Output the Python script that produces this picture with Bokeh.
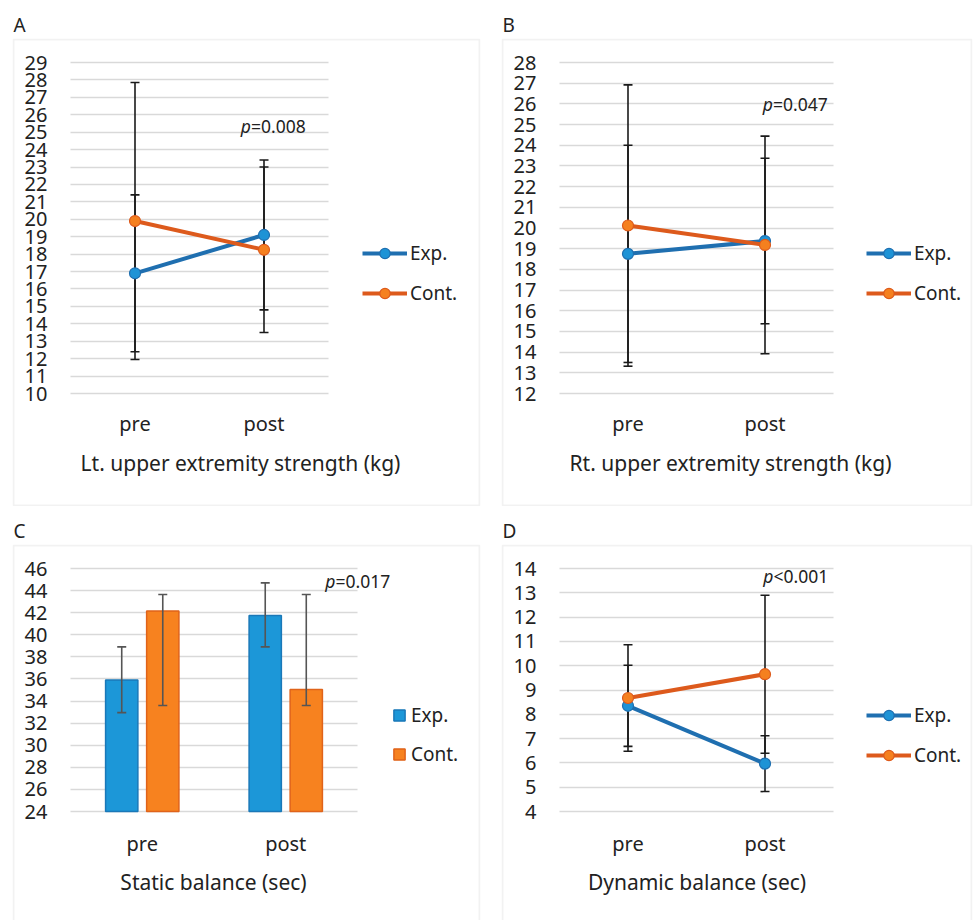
from bokeh.plotting import figure
from bokeh.models import (Range1d, Label, BoxAnnotation, Legend, LegendItem,
                          ColumnDataSource, FixedTicker)
from bokeh.layouts import column, row
from bokeh.embed import file_html
from bokeh.resources import INLINE

# ---------------- data ----------------
cats = ["pre", "post"]

A_exp_mean = [16.9, 19.1]
A_exp_sd = [4.5, 4.3]
A_cont_mean = [19.9, 18.25]
A_cont_sd = [7.95, 4.75]

B_exp_mean = [18.75, 19.37]
B_exp_sd = [5.25, 4.0]
B_cont_mean = [20.12, 19.18]
B_cont_sd = [6.8, 5.26]

C_exp_mean = [35.9, 41.75]
C_exp_upper = [38.9, 44.7]
C_exp_lower = [32.95, 38.9]
C_cont_mean = [42.15, 35.05]
C_cont_upper = [43.65, 43.65]
C_cont_lower = [33.6, 33.6]

D_exp_mean = [8.35, 5.97]
D_exp_sd = [1.67, 1.15]
D_cont_mean = [8.67, 9.65]
D_cont_sd = [2.19, 3.25]

p_texts = ["=0.008", "=0.047", "=0.017", "<0.001"]
titles = ["Lt. upper extremity strength (kg)", "Rt. upper extremity strength (kg)",
          "Static balance (sec)", "Dynamic balance (sec)"]
letters = ["A", "B", "C", "D"]
series_names = ["Exp.", "Cont."]

# category positions on the numeric axis (centre of each category slot)
xs = [i + 0.5 for i in range(len(cats))]
NCAT = len(cats)

# ---------------- style ----------------
FONT = "Noto Sans"
TXT = "#222222"
GRID = "#d9d9d9"
EXP_LINE, EXP_MARK, EXP_EDGE = "#1f6fb0", "#1e93d6", "#1f6fb0"
CONT_LINE, CONT_MARK, CONT_EDGE = "#dd5a1c", "#f5801f", "#dd5a1c"
BAR_EXP, BAR_EXP_EDGE = "#1c97d8", "#1a78b8"
BAR_CONT, BAR_CONT_EDGE = "#f7821f", "#e0631a"
ERR_LINE = "#1a1a1a"
ERR_BAR = "#555555"


def to_data(P, ax, ay):
    """panel-absolute pixel -> data coordinate (via the plot-area mapping)"""
    px = ax - P["ox"] - P["pl"]
    py = ay - P["oy"] - P["pt"]
    return (px / P["pw"] * NCAT,
            P["y1"] - py / P["ph"] * (P["y1"] - P["y0"]))


def make_panel(P, i):
    W, H = P["W"], P["H"]
    fl, ft, fr, fb = P["frame"]          # frame edges in panel pixels
    x_start, _ = to_data(P, P["ox"] + fl, 0)
    x_end, _ = to_data(P, P["ox"] + fr, 0)
    _, y_top = to_data(P, 0, P["oy"] + ft)
    _, y_bot = to_data(P, 0, P["oy"] + fb)
    p = figure(x_range=Range1d(x_start, x_end), y_range=Range1d(y_bot, y_top),
               width=W, height=H, output_backend="svg", toolbar_location=None,
               min_border_left=fl, min_border_top=ft,
               min_border_right=W - fr, min_border_bottom=H - fb)
    p.outline_line_color = None
    p.background_fill_color = "white"
    p.border_fill_color = "white"

    # y axis at the left of the plot area
    yt = list(range(P["y0"], P["y1"] + 1, P["step"]))
    p.yaxis.ticker = FixedTicker(ticks=yt)
    p.yaxis.bounds = (P["y0"], P["y1"])
    p.yaxis.fixed_location = 0
    p.yaxis.major_label_standoff = 17
    # x axis at the bottom of the plot area
    p.xaxis.ticker = FixedTicker(ticks=xs)
    p.xaxis.major_label_overrides = {x: c for x, c in zip(xs, cats)}
    p.xaxis.bounds = (0, NCAT)
    p.xaxis.fixed_location = P["y0"]
    p.xaxis.major_label_standoff = P["xstand"]
    for ax in (p.xaxis, p.yaxis):
        ax.axis_line_color = None
        ax.major_tick_line_color = None
        ax.minor_tick_line_color = None
        ax.major_label_text_font = FONT
        ax.major_label_text_color = TXT
        ax.major_label_text_font_size = "20px"

    p.xgrid.grid_line_color = None
    p.ygrid.grid_line_color = GRID
    p.ygrid.grid_line_width = 1.5
    try:
        p.ygrid.cross_bounds = (0, NCAT)
    except Exception:
        pass

    # surrounding box of the panel
    l, t = to_data(P, *P["box"][:2])
    r, b = to_data(P, *P["box"][2:])
    p.add_layout(BoxAnnotation(left=l, right=r, top=t, bottom=b, fill_alpha=0,
                               line_color="#d4d4d4", line_width=2, level="underlay"))

    # panel letter as the figure title
    p.title.text = letters[i]
    p.title.align = "left"
    p.title.offset = 1
    p.title.standoff = 1
    p.title.text_font = FONT
    p.title.text_font_size = "19px"
    p.title.text_font_style = "normal"
    p.title.text_color = TXT

    # chart title
    x, y = to_data(P, *P["title"])
    p.add_layout(Label(x=x, y=y, text=titles[i], text_font=FONT, text_font_size="21px",
                       text_color=TXT, text_baseline="middle", text_align="center"))
    # p value
    x, y = to_data(P, *P["pv"])
    p.add_layout(Label(x=x, y=y, text="p", text_font=FONT, text_font_size="17.5px",
                       text_font_style="italic", text_color=TXT,
                       text_baseline="middle", text_align="right"))
    p.add_layout(Label(x=x, y=y, text=p_texts[i], text_font=FONT, text_font_size="17.5px",
                       text_color=TXT, text_baseline="middle", text_align="left"))
    return p


def errbars(p, x, lo, up, color, width, cap):
    src = ColumnDataSource(dict(x=x, lo=lo, up=up))
    p.segment(x0="x", y0="lo", x1="x", y1="up", source=src,
              line_color=color, line_width=width)
    p.scatter(x="x", y="lo", source=src, marker="dash", size=cap,
              line_color=color, line_width=width)
    p.scatter(x="x", y="up", source=src, marker="dash", size=cap,
              line_color=color, line_width=width)


def line_panel(P, i, exp_m, exp_sd, cont_m, cont_sd):
    p = make_panel(P, i)
    for m, s in ((exp_m, exp_sd), (cont_m, cont_sd)):
        errbars(p, xs, [a - b for a, b in zip(m, s)], [a + b for a, b in zip(m, s)],
                ERR_LINE, 1.6, 9)
    items = []
    for name, m, lc, mc, ec in ((series_names[0], exp_m, EXP_LINE, EXP_MARK, EXP_EDGE),
                                (series_names[1], cont_m, CONT_LINE, CONT_MARK, CONT_EDGE)):
        src = ColumnDataSource(dict(x=xs, m=m))
        lr = p.line(x="x", y="m", source=src, line_color=lc, line_width=4)
        sr = p.scatter(x="x", y="m", source=src, size=11, fill_color=mc,
                       line_color=ec, line_width=1.2)
        items.append(LegendItem(label=name, renderers=[lr, sr]))
    leg = Legend(items=items, location=P["leg"], border_line_color=None,
                 background_fill_alpha=0, padding=0, margin=0, spacing=14,
                 glyph_width=45, glyph_height=26, label_height=26, label_standoff=3,
                 label_text_font=FONT, label_text_font_size="19px", label_text_color=TXT)
    p.add_layout(leg)
    return p


def bar_panel(P, i):
    p = make_panel(P, i)
    items = []
    offs = [-0.143, 0.143]
    for name, m, off, fc, ec in ((series_names[0], C_exp_mean, offs[0], BAR_EXP, BAR_EXP_EDGE),
                                 (series_names[1], C_cont_mean, offs[1], BAR_CONT, BAR_CONT_EDGE)):
        src = ColumnDataSource(dict(x=[x + off for x in xs], m=m))
        r = p.vbar(x="x", top="m", bottom=P["y0"], width=0.225, source=src,
                   fill_color=fc, line_color=ec, line_width=1.5)
        items.append(LegendItem(label=name, renderers=[r]))
    for off, lo, up in ((offs[0], C_exp_lower, C_exp_upper), (offs[1], C_cont_lower, C_cont_upper)):
        errbars(p, [x + off for x in xs], lo, up, ERR_BAR, 1.6, 9)
    leg = Legend(items=items, location=P["leg"], border_line_color=None,
                 background_fill_alpha=0, padding=0, margin=0, spacing=13,
                 glyph_width=14, glyph_height=14, label_height=14, label_standoff=5,
                 label_text_font=FONT, label_text_font_size="19px", label_text_color=TXT)
    p.add_layout(leg)
    return p


# pixel layout of each panel (panel-absolute: ox/oy = panel origin in the page)
PA = dict(ox=0, oy=0, W=489, H=506, frame=(12, 38, 480, 506),
          pl=70, pt=62, pw=258, ph=331, y0=10, y1=29, step=1, xstand=10,
          box=(13, 39, 479, 505), title=(240, 462), pv=(250.5, 125), leg=(350, 200))
PB = dict(ox=489, oy=0, W=484, H=506, frame=(12, 38, 483, 506),
          pl=70, pt=62, pw=274, ph=331, y0=12, y1=28, step=1, xstand=10,
          box=(502, 39, 971, 505), title=(730, 462), pv=(772.5, 103), leg=(365, 200))
PC = dict(ox=0, oy=506, W=489, H=414, frame=(12, 38, 480, 414),
          pl=70, pt=62, pw=287, ph=243, y0=24, y1=46, step=2, xstand=12,
          box=(13, 545, 479, 940), title=(213, 881), pv=(335, 580), leg=(380, 153))
PD = dict(ox=489, oy=506, W=484, H=414, frame=(12, 38, 483, 414),
          pl=70, pt=62, pw=274, ph=243, y0=4, y1=14, step=1, xstand=12,
          box=(502, 545, 971, 940), title=(696.5, 881), pv=(773, 575), leg=(365, 152))

pA = line_panel(PA, 0, A_exp_mean, A_exp_sd, A_cont_mean, A_cont_sd)
pB = line_panel(PB, 1, B_exp_mean, B_exp_sd, B_cont_mean, B_cont_sd)
pC = bar_panel(PC, 2)
pD = line_panel(PD, 3, D_exp_mean, D_exp_sd, D_cont_mean, D_cont_sd)

layout = column(row(pA, pB), row(pC, pD))
open("out.html", "w").write(file_html(layout, INLINE))
